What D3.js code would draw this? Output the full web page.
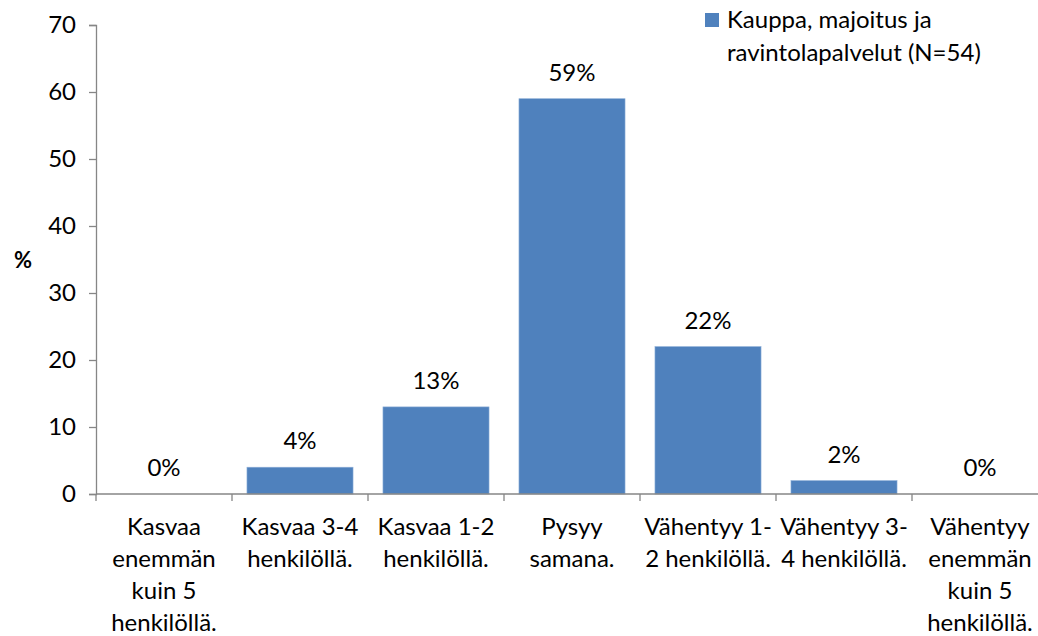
<!DOCTYPE html>
<html>
<head>
<meta charset="utf-8">
<script src="https://cdn.jsdelivr.net/npm/d3@7"></script>
<style>
  body { margin: 0; background: #fff; }
  svg { display: block; }
  text { font-family: Lato, "Open Sans", sans-serif; fill: #000; }
</style>
</head>
<body>
<svg class="chart" width="1038" height="636"></svg>
<script>
const categories = [
  "Kasvaa\nenemmän\nkuin 5\nhenkilöllä.",
  "Kasvaa 3-4\nhenkilöllä.",
  "Kasvaa 1-2\nhenkilöllä.",
  "Pysyy\nsamana.",
  "Vähentyy 1-\n2 henkilöllä.",
  "Vähentyy 3-\n4 henkilöllä.",
  "Vähentyy\nenemmän\nkuin 5\nhenkilöllä."
];
const values = [0, 4, 13, 59, 22, 2, 0];
const yTicks = [0, 10, 20, 30, 40, 50, 60, 70];
const seriesName = ["Kauppa, majoitus ja", "ravintolapalvelut (N=54)"];

const svg = d3.select(".chart");
const plotLeft = 96, plotRight = 1048, plotTop = 25, plotBottom = 494;
const fontSize = "24px";

const x = d3.scaleBand()
            .domain(categories)
            .range([plotLeft, plotRight])
            .paddingInner(0.22)
            .paddingOuter(0.11);

const y = d3.scaleLinear()
            .domain([0, 70])
            .range([plotBottom, plotTop]);

// y axis
const yAxis = svg.append("g")
                 .attr("transform", "translate(" + plotLeft + ",0)")
                 .call(d3.axisLeft(y).tickValues(yTicks).tickSize(7).tickPadding(13));
yAxis.select(".domain").attr("stroke", "#868686").attr("stroke-width", 1.3);
yAxis.selectAll(".tick line").attr("stroke", "#868686").attr("stroke-width", 1.3);
yAxis.selectAll(".tick text")
     .attr("font-size", fontSize)
     .attr("font-family", "Lato, sans-serif")
     .attr("fill", "#000");

// bars
svg.selectAll("rect.bar")
   .data(values)
   .enter()
   .append("rect")
   .attr("class", "bar")
   .attr("x", (d, i) => x(categories[i]))
   .attr("y", d => y(d))
   .attr("width", x.bandwidth())
   .attr("height", d => y(0) - y(d))
   .attr("fill", "#4F81BD")
   .attr("stroke", "#8fb0d8")
   .attr("stroke-width", 0.6);

// x axis line and ticks between categories
const step = x.step();
const xLine = svg.append("g");
xLine.append("line")
     .attr("x1", plotLeft).attr("x2", plotRight)
     .attr("y1", y(0)).attr("y2", y(0))
     .attr("stroke", "#868686").attr("stroke-width", 1.3);
xLine.selectAll("line.tick")
     .data(d3.range(categories.length + 1))
     .enter()
     .append("line")
     .attr("class", "tick")
     .attr("x1", i => plotLeft + i * step)
     .attr("x2", i => plotLeft + i * step)
     .attr("y1", y(0))
     .attr("y2", y(0) + 7)
     .attr("stroke", "#868686").attr("stroke-width", 1.3);

// category labels
svg.selectAll("text.cat")
   .data(categories)
   .enter()
   .append("text")
   .attr("class", "cat")
   .attr("text-anchor", "middle")
   .attr("font-size", fontSize)
   .selectAll("tspan")
   .data(d => d.split("\n").map(line => ({ line: line, cat: d })))
   .enter()
   .append("tspan")
   .attr("x", d => x(d.cat) + x.bandwidth() / 2)
   .attr("y", (d, i) => 535 + i * 32)
   .text(d => d.line);

// value labels
svg.selectAll("text.value")
   .data(values)
   .enter()
   .append("text")
   .attr("class", "value")
   .attr("text-anchor", "middle")
   .attr("font-size", fontSize)
   .attr("x", (d, i) => x(categories[i]) + x.bandwidth() / 2)
   .attr("y", d => y(d) - 18)
   .text(d => d + "%");

// y axis title
svg.append("text")
   .attr("x", 23)
   .attr("y", 268)
   .attr("text-anchor", "middle")
   .attr("font-size", "22px")
   .attr("font-weight", "bold")
   .text("%");

// legend
const legend = svg.append("g");
legend.append("rect")
      .attr("x", 705).attr("y", 13)
      .attr("width", 14).attr("height", 14)
      .attr("fill", "#4F81BD");
legend.selectAll("text")
      .data(seriesName)
      .enter()
      .append("text")
      .attr("x", 727)
      .attr("y", (d, i) => 28 + i * 33)
      .attr("font-size", fontSize)
      .text(d => d);
</script>
</body>
</html>
